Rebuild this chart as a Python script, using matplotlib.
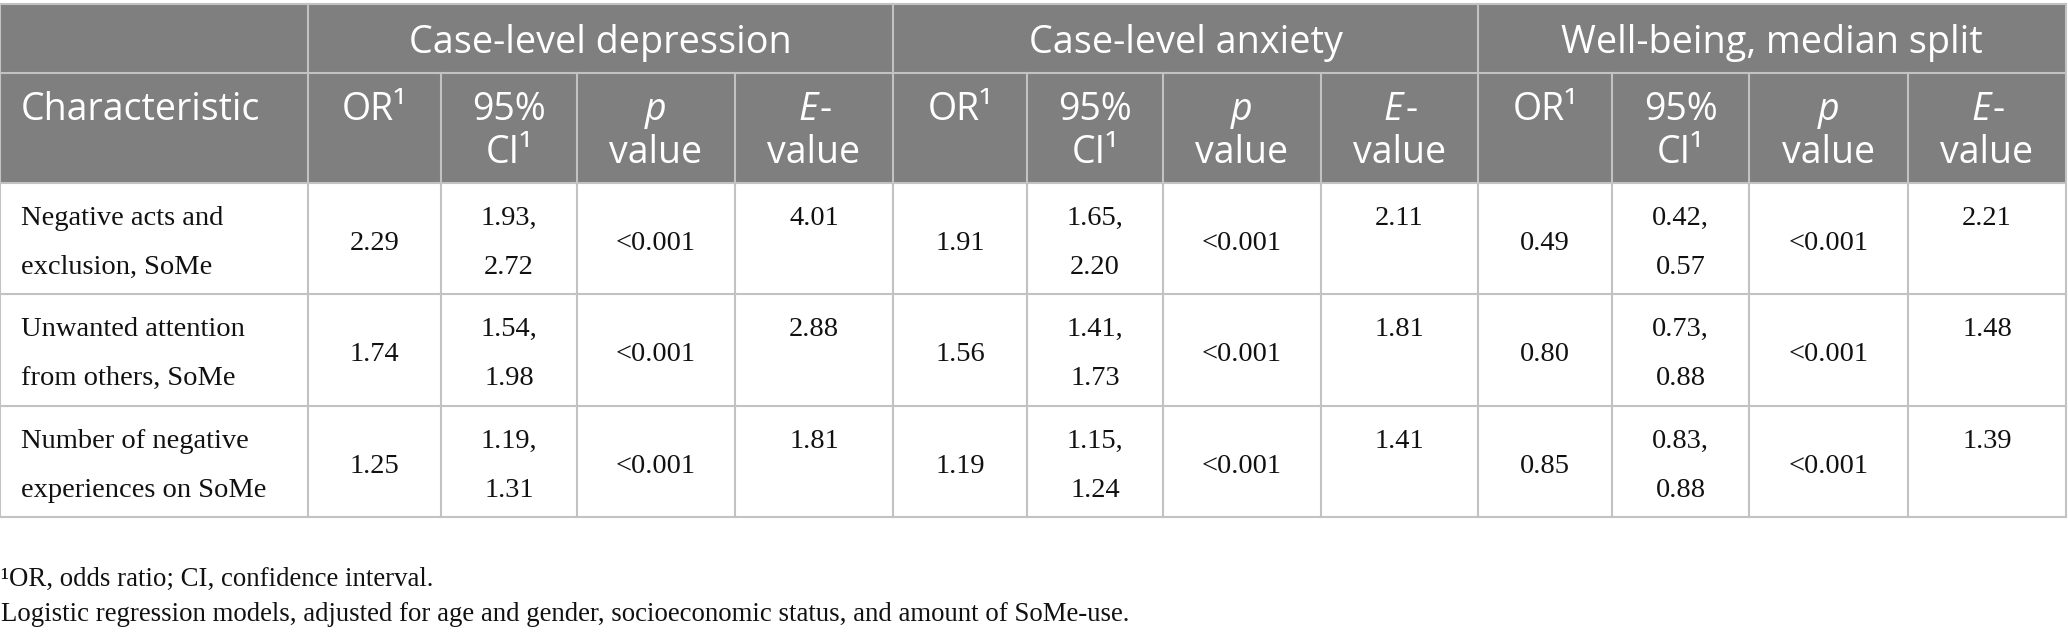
import matplotlib
matplotlib.use('Agg')
import matplotlib.pyplot as plt
from matplotlib.patches import Rectangle

# data
groups = ['Case-level depression', 'Case-level anxiety', 'Well-being, median split']
characteristics = [
    ['Negative acts and', 'exclusion, SoMe'],
    ['Unwanted attention', 'from others, SoMe'],
    ['Number of negative', 'experiences on SoMe'],
]
or_dep = [2.29, 1.74, 1.25]
ci_lo_dep = [1.93, 1.54, 1.19]
ci_hi_dep = [2.72, 1.98, 1.31]
p_dep = ['<0.001', '<0.001', '<0.001']
e_dep = [4.01, 2.88, 1.81]

or_anx = [1.91, 1.56, 1.19]
ci_lo_anx = [1.65, 1.41, 1.15]
ci_hi_anx = [2.20, 1.73, 1.24]
p_anx = ['<0.001', '<0.001', '<0.001']
e_anx = [2.11, 1.81, 1.41]

or_wb = [0.49, 0.80, 0.85]
ci_lo_wb = [0.42, 0.73, 0.83]
ci_hi_wb = [0.57, 0.88, 0.88]
p_wb = ['<0.001', '<0.001', '<0.001']
e_wb = [2.21, 1.48, 1.39]

footnotes = ['\u00b9OR, odds ratio; CI, confidence interval.',
             'Logistic regression models, adjusted for age and gender, socioeconomic status, and amount of SoMe-use.']

# layout (pixels)
W, H = 2068, 632
col_edges = [0, 308, 441, 577, 735, 893, 1027, 1163, 1321, 1478, 1612, 1749, 1908, 2066]
row_edges = [4, 73, 183, 294, 406, 517]
header_bg = '#7f7f7f'
grid = '#c2c2c2'
sans = ['Open Sans', 'DejaVu Sans']
serif = ['Liberation Serif', 'DejaVu Serif']
hsize1 = 27.2
hsize2 = 27
bsize = 20.5
fsize = 19.3

fig = plt.figure(figsize=(W / 100, H / 100), dpi=100)
ax = fig.add_axes([0, 0, 1, 1])
ax.set_xlim(0, W)
ax.set_ylim(H, 0)
ax.axis('off')

# header background
ax.add_patch(Rectangle((col_edges[0], row_edges[0]), col_edges[-1] - col_edges[0],
                       row_edges[2] - row_edges[0], facecolor=header_bg, edgecolor='none'))

# grid lines
lw = 1.5
for y in row_edges:
    ax.plot([col_edges[0], col_edges[-1]], [y, y], color=grid, lw=lw)
for i, x in enumerate(col_edges):
    if i in (0, 1, 5, 9, 13):
        ax.plot([x, x], [row_edges[0], row_edges[-1]], color=grid, lw=lw)
    else:
        ax.plot([x, x], [row_edges[1], row_edges[-1]], color=grid, lw=lw)

renderer = fig.canvas.get_renderer()

def centers(a, b):
    return (col_edges[a] + col_edges[b]) / 2

# header row 1
for g, name in enumerate(groups):
    cx = centers(1 + 4 * g, 5 + 4 * g)
    ax.text(cx, 53, name, color='white', fontsize=hsize1, family=sans,
            ha='center', va='baseline')

# header row 2
ax.text(21, 120, 'Characteristic', color='white', fontsize=hsize2, family=sans,
        ha='left', va='baseline')
for g in range(3):
    c0 = 1 + 4 * g
    ax.text(centers(c0, c0 + 1), 120, 'OR\u00b9', color='white', fontsize=hsize2,
            family=sans, ha='center', va='baseline')
    ax.text(centers(c0 + 1, c0 + 2), 120, '95%', color='white', fontsize=hsize2,
            family=sans, ha='center', va='baseline')
    ax.text(centers(c0 + 1, c0 + 2), 163, 'CI\u00b9', color='white', fontsize=hsize2,
            family=sans, ha='center', va='baseline')
    ax.text(centers(c0 + 2, c0 + 3), 120, 'p', color='white', fontsize=hsize2,
            family=sans, style='italic', ha='center', va='baseline')
    ax.text(centers(c0 + 2, c0 + 3), 163, 'value', color='white', fontsize=hsize2,
            family=sans, ha='center', va='baseline')
    # "E-" with italic E
    cx = centers(c0 + 3, c0 + 4)
    tE = ax.text(0, 120, 'E', color='white', fontsize=hsize2, family=sans,
                 style='italic', ha='left', va='baseline')
    tD = ax.text(0, 120, '-', color='white', fontsize=hsize2, family=sans,
                 ha='left', va='baseline')
    wE = tE.get_window_extent(renderer).width
    wD = tD.get_window_extent(renderer).width
    left = cx - (wE + wD) / 2
    tE.set_x(left)
    tD.set_x(left + wE + 2)
    ax.text(cx, 163, 'value', color='white', fontsize=hsize2, family=sans,
            ha='center', va='baseline')

# body
blocks = [
    (or_dep, ci_lo_dep, ci_hi_dep, p_dep, e_dep),
    (or_anx, ci_lo_anx, ci_hi_anx, p_anx, e_anx),
    (or_wb, ci_lo_wb, ci_hi_wb, p_wb, e_wb),
]
txt = '#111111'
for r in range(3):
    top = row_edges[2 + r]
    ax.text(21, top + 42, characteristics[r][0], color=txt, fontsize=bsize,
            family=serif, ha='left', va='baseline')
    ax.text(21, top + 91, characteristics[r][1], color=txt, fontsize=bsize,
            family=serif, ha='left', va='baseline')
    for g, (orv, lo, hi, pv, ev) in enumerate(blocks):
        c0 = 1 + 4 * g
        ax.text(centers(c0, c0 + 1), top + 67, f'{orv[r]:.2f}', color=txt,
                fontsize=bsize, family=serif, ha='center', va='baseline')
        ax.text(centers(c0 + 1, c0 + 2), top + 42, f'{lo[r]:.2f},', color=txt,
                fontsize=bsize, family=serif, ha='center', va='baseline')
        ax.text(centers(c0 + 1, c0 + 2), top + 91, f'{hi[r]:.2f}', color=txt,
                fontsize=bsize, family=serif, ha='center', va='baseline')
        ax.text(centers(c0 + 2, c0 + 3), top + 67, pv[r], color=txt,
                fontsize=bsize, family=serif, ha='center', va='baseline')
        ax.text(centers(c0 + 3, c0 + 4), top + 42, f'{ev[r]:.2f}', color=txt,
                fontsize=bsize, family=serif, ha='center', va='baseline')

# footnotes
ax.text(1, 586, footnotes[0], color=txt, fontsize=fsize, family=serif,
        ha='left', va='baseline')
ax.text(1, 621, footnotes[1], color=txt, fontsize=fsize, family=serif,
        ha='left', va='baseline')

fig.savefig('out.png', dpi=100, facecolor='white')
